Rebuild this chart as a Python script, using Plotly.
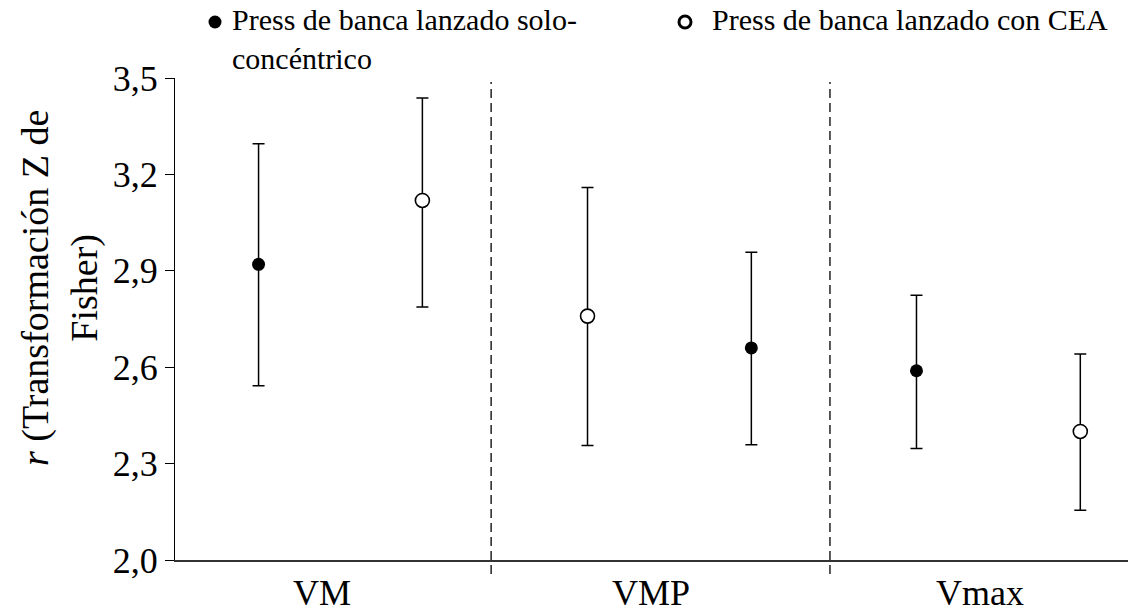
import plotly.graph_objects as go

# ---------------- data ----------------
categories = ["VM", "VMP", "Vmax"]
y_ticks = [2.0, 2.3, 2.6, 2.9, 3.2, 3.5]

solo_name = "Press de banca lanzado solo-<br>concéntrico"
solo_mean = [2.920, 2.660, 2.589]
solo_low = [2.542, 2.359, 2.347]
solo_high = [3.295, 2.958, 2.824]

cea_name = "Press de banca lanzado con CEA"
cea_mean = [3.119, 2.759, 2.400]
cea_low = [2.787, 2.356, 2.155]
cea_high = [3.438, 3.159, 2.641]

# ---------------- layout helpers ----------------
W, H = 1128, 612
ML, MR, MT, MB = 175, 0, 78, 52
PW, PH = W - ML - MR, H - MT - MB
X_RANGE = [-0.447, 2.45]
Y_RANGE = [2.0, 3.5]
FONT = "Liberation Serif"

side_offset = {"left": -0.193, "right": 0.305}
solo_side = ["left", "right", "left"]
cea_side = ["right", "left", "right"]
divider_pos = [0.514, 1.544]


def px_x(px):
    return (px - ML) / PW


def px_y(py):
    return (H - MB - py) / PH


def positions(sides):
    return [i + side_offset[s] for i, s in enumerate(sides)]


def err(mean, low, high):
    return ([h - m for m, h in zip(mean, high)], [m - l for m, l in zip(mean, low)])


fig = go.Figure()

up, down = err(solo_mean, solo_low, solo_high)
fig.add_trace(go.Scatter(
    x=positions(solo_side), y=solo_mean, mode="markers", name=solo_name,
    showlegend=False,
    marker=dict(symbol="circle", size=13, color="black", line=dict(width=0)),
    error_y=dict(type="data", array=up, arrayminus=down, color="black",
                 thickness=1.5, width=6),
))

up, down = err(cea_mean, cea_low, cea_high)
fig.add_trace(go.Scatter(
    x=positions(cea_side), y=cea_mean, mode="markers", name=cea_name,
    showlegend=False,
    marker=dict(symbol="circle", size=14, color="white",
                line=dict(width=1.6, color="black")),
    error_y=dict(type="data", array=up, arrayminus=down, color="black",
                 thickness=1.5, width=6),
))

shapes = []
for d in divider_pos:
    shapes.append(dict(type="line", xref="x", yref="paper", x0=d, x1=d,
                       y0=px_y(574), y1=px_y(82),
                       line=dict(color="#222222", width=1.5, dash="9px,5px")))

# manual legend markers
shapes.append(dict(type="circle", xref="paper", yref="paper",
                   xsizemode="pixel", ysizemode="pixel",
                   xanchor=px_x(215), yanchor=px_y(22),
                   x0=-6.5, x1=6.5, y0=-6.5, y1=6.5,
                   fillcolor="black", line=dict(width=0)))
shapes.append(dict(type="circle", xref="paper", yref="paper",
                   xsizemode="pixel", ysizemode="pixel",
                   xanchor=px_x(685), yanchor=px_y(22),
                   x0=-6, x1=6, y0=-6, y1=6,
                   fillcolor="white", line=dict(width=3, color="black")))

annotations = [
    dict(text=solo_name, xref="paper", yref="paper", x=px_x(230), y=px_y(1),
         xanchor="left", yanchor="top", align="left", showarrow=False,
         font=dict(family=FONT, size=30, color="black")),
    dict(text=cea_name, xref="paper", yref="paper", x=px_x(710), y=px_y(1),
         xanchor="left", yanchor="top", align="left", showarrow=False,
         font=dict(family=FONT, size=30, color="black")),
    dict(text="<i>r</i> (Transformación Z de<br>Fisher)", xref="paper", yref="paper",
         x=px_x(60), y=px_y(288), xanchor="center", yanchor="middle",
         textangle=-90, showarrow=False, align="center",
         font=dict(family=FONT, size=38, color="black")),
]

fig.update_layout(
    width=W, height=H,
    margin=dict(l=ML, r=MR, t=MT, b=MB, pad=0, autoexpand=False),
    paper_bgcolor="white", plot_bgcolor="white",
    separators=", ",
    showlegend=False,
    font=dict(family=FONT, color="black"),
    shapes=shapes,
    annotations=annotations,
    xaxis=dict(range=X_RANGE, tickvals=list(range(len(categories))), ticktext=categories,
               showgrid=False, zeroline=False, showline=True, linecolor="#333333",
               linewidth=2, ticks="", ticklabelstandoff=0, automargin=False,
               tickfont=dict(family=FONT, size=36, color="black")),
    yaxis=dict(range=Y_RANGE, tickvals=y_ticks, tickformat=".1f", automargin=False,
               showgrid=False, zeroline=False, showline=True, linecolor="black",
               linewidth=1.3, ticks="outside", ticklen=9, tickwidth=1.3, tickcolor="black",
               tickfont=dict(family=FONT, size=36, color="black")),
)

fig.write_html("out.html")
